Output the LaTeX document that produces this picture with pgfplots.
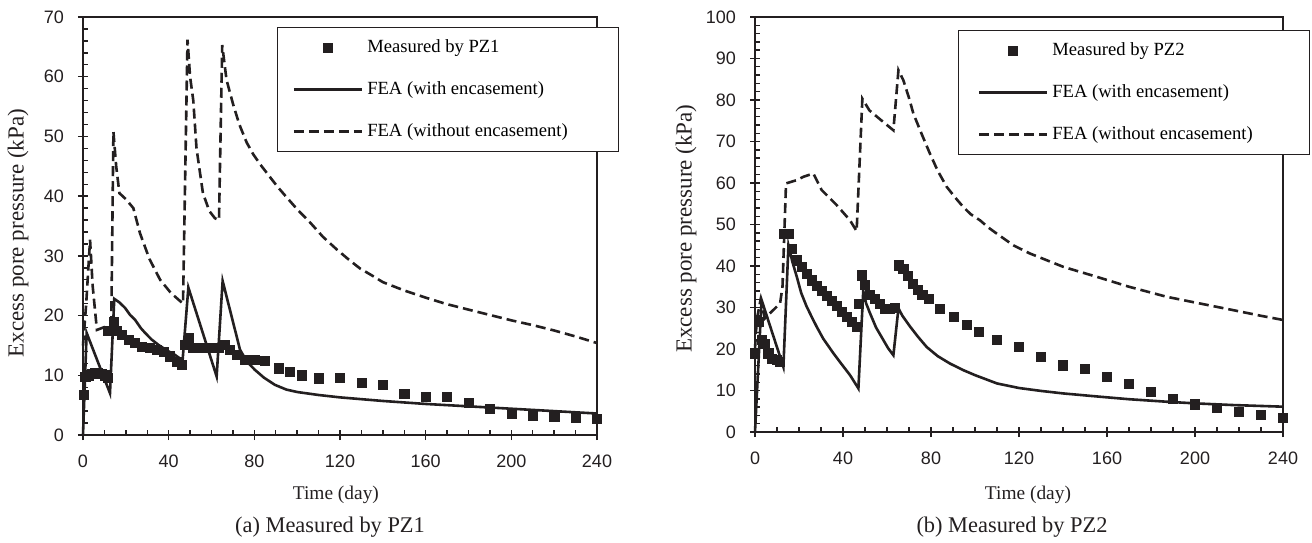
\documentclass[border=0pt]{standalone}
\usepackage{fontspec}
\setmainfont{Liberation Serif}
\setsansfont{Liberation Sans}
\usepackage{pgfplots}
\pgfplotsset{compat=1.18}
\definecolor{ink}{RGB}{35,31,32}

\pgfplotsset{
  pzstyle/.style={
    scale only axis,
    clip=false,
    xmin=0, xmax=240,
    xtick={0,40,...,240},
    minor x tick num=3,
    minor y tick num=4,
    tick pos=left,
    tick align=inside,
    major tick length=5pt,
    minor tick length=2.5pt,
    every major x tick/.append style={yshift=-2.5pt},
    every major y tick/.append style={xshift=-2.5pt},
    tick style={ink, line width=0.7pt},
    axis line style={ink, line width=0.9pt},
    ticklabel style={font=\sffamily\fontsize{9}{10}\selectfont, text=ink},
    /pgf/number format/assume math mode=true,
    xticklabel style={yshift=-6.5pt},
    yticklabel style={xshift=-6pt},
    label style={font=\fontsize{9.7}{11}\selectfont, text=ink},
    xlabel={Time (day)},
    ylabel={Excess pore pressure (kPa)},
    ylabel style={font=\fontsize{11.5}{12}\selectfont, anchor=center},
    xlabel style={anchor=center},
    legend cell align=left,
    legend style={draw=ink, line width=0.7pt, font=\fontsize{9.3}{11}\selectfont,
      inner ysep=4pt, row sep=9pt, anchor=north west},
    legend image code/.code={\draw[mark repeat=2,mark phase=2,##1] plot coordinates {(0pt,0pt) (17pt,0pt) (34pt,0pt)};},
  },
  meas/.style={only marks, mark=square*, mark size=2.3pt, ink, mark options={fill=ink, draw=ink, line width=0.2pt, solid}},
  fea/.style={ink, line width=1.3pt, no marks},
  feadash/.style={ink, line width=1.3pt, no marks, dash pattern=on 5pt off 2.5pt},
}

\begin{document}
\begin{tikzpicture}[x=0.5pt,y=0.5pt]
\path[use as bounding box] (0,0) rectangle (1312,542);

% (a) PZ1
\begin{axis}[pzstyle,
  at={(41.5pt,53.5pt)}, anchor=south west,
  width=257pt, height=209pt,
  ymin=0, ymax=70, ytick={0,10,...,70},
  ylabel style={at={(axis description cs:-0.1265,0.483)}},
  xlabel style={at={(axis description cs:0.492,-0.1435)}},
  legend style={at={(axis description cs:0.3774,0.976)}, inner xsep=7.5pt},
]
\addplot[meas] coordinates {
(0.2,6.7) (1,9.8) (2.5,10) (4,10.2) (5.5,10.4) (7,10.4) (8.5,10.2) (10,10) (11.5,9.6)
(11.8,17.4) (14.2,19) (15.8,17.4) (18,16.8) (21.2,16) (24.3,15.4) (27.4,14.8) (31.3,14.6)
(34.5,14.3) (37.5,14) (40.6,13.2) (43.7,12.3) (46,11.8) (47.6,15.1) (49.2,16.2) (51.5,14.6)
(54.6,14.6) (57.7,14.6) (60.5,14.6) (63.2,14.6) (66.3,15.1) (68.6,14.3) (71.8,13.4) (75.6,12.6)
(80.3,12.6) (85,12.4) (91.2,11.2) (96.6,10.6) (102,10) (110,9.5) (120,9.6) (130,8.7) (140,8.4)
(150,6.9) (160,6.4) (170,6.4) (180,5.4) (190,4.4) (200,3.6) (210,3.2) (220,3.1) (230,2.9) (240,2.7)
};
\addlegendentry{\makebox[116pt][l]{Measured by PZ1}}
\addplot[fea] coordinates {
(0,0) (1.7,17.1) (12.6,7) (14.6,22.8) (17,22.2) (19.6,21.3) (22,20.1) (24.3,19.3) (27,17.9)
(29,17.1) (32,16) (35.2,15.1) (39,14.2) (43,13.4) (46.5,12.5) (49.2,24.7) (62.4,9.8)
(65.2,25.8) (73.3,14.3) (76.5,12.3) (80.3,10.9) (84.5,9.6) (89.6,8.4) (95,7.6) (100,7.2)
(110,6.7) (120,6.3) (140,5.7) (160,5.2) (180,4.8) (200,4.4) (220,4.0) (240,3.6)
};
\addlegendentry{FEA (with encasement)}
\addplot[feadash] coordinates {
(0,15) (1.5,22) (3.3,32.7) (4.5,25) (6.5,17.6) (13.2,18.5) (14.2,50.8) (15.5,45) (17,40.5)
(20,39.5) (23.5,38) (26.6,33.8) (31,29.5) (36,26) (41,23.8) (46.7,22) (48.8,66.2) (50,60)
(51.5,56) (53,48) (56,40.5) (59,37.5) (61.6,36.3) (63.5,36) (65,65.3) (67,59.5) (70,55.5)
(73,52) (76.4,49) (79.5,47) (83,45.2) (87.3,43.2) (91,41.5) (95.1,39.8) (100,37.8) (106,35.6)
(112,33.2) (118.4,31.1) (124,29.4) (129.3,27.9) (135,26.7) (140,25.6) (150,24.2) (160,23)
(170,21.9) (180,21) (190,20.1) (200,19.2) (210,18.4) (220,17.5) (230,16.5) (240,15.4)
};
\addlegendentry{FEA (without encasement)}
\end{axis}

% (b) PZ2
\begin{axis}[pzstyle,
  at={(377.5pt,55pt)}, anchor=south west,
  width=264pt, height=207.5pt,
  ymin=0, ymax=100, ytick={0,10,...,100},
  ylabel style={at={(axis description cs:-0.1307,0.49)}},
  xlabel style={at={(axis description cs:0.517,-0.152)}},
  legend style={at={(axis description cs:0.3845,0.9687)}, inner xsep=9.5pt},
]
\addplot[meas] coordinates {
(0,19) (1.5,26.6) (3,22.2) (4.5,21.3) (6,19) (7.6,17.7) (9.8,17.4) (11.4,17)
(12.9,47.8) (15.2,47.8) (16.7,44.2) (19,41.4) (21.2,39.8) (23.5,38.2) (25.8,36.6) (28,35.3)
(30.3,34.1) (32.6,32.9) (34.8,31.7) (37.1,30.5) (39.4,29) (41.7,27.8) (43.9,26.6) (46.2,25.4)
(47,31) (48.5,37.8) (50,35.4) (52.3,33) (54.5,32.2) (56.8,31) (59.1,29.8) (61.4,29.8) (63.4,30)
(65.2,40.2) (67.4,39.4) (69.5,37.6) (71.5,35.8) (73.8,34.2) (76,33) (78.8,32.1) (84.1,29.8)
(90.2,27.8) (96.2,25.8) (101.5,24.2) (109.8,22.2) (120,20.5) (130,18.1) (140,16.1) (150,15.3)
(160,13.3) (170,11.7) (180,9.7) (190,8.1) (200,6.7) (210,5.9) (220,4.9) (230,4.1) (240,3.5)
};
\addlegendentry{\makebox[117pt][l]{Measured by PZ2}}
\addplot[fea] coordinates {
(0,0) (3,31.8) (12.9,15.7) (15.2,45) (17,41) (19,37.4) (21,33.5) (23.5,30.2) (26,27.5)
(28,25.4) (31,22.5) (35.6,19) (39,16.6) (43.2,13.7) (47,10.5) (49.2,34) (50.5,31) (52.3,28.6)
(55,25.2) (58.3,22.2) (60.5,20.2) (62.9,18.5) (65.2,29.8) (67,28) (70.5,25.4) (74,23)
(78,20.5) (83,18.3) (88.6,16.5) (94.7,14.9) (100,13.7) (110,11.7) (120,10.6) (130,9.9)
(140,9.3) (156.8,8.5) (170,7.9) (187,7.3) (200,6.9) (217,6.5) (240,6.1)
};
\addlegendentry{FEA (with encasement)}
\addplot[feadash] coordinates {
(0,20) (0.8,27) (2.5,31.8) (4.5,27.4) (11.4,31) (12.5,35) (14.1,59.9) (19,60.7) (22,61.5)
(26.5,62.3) (30.3,58.3) (37.1,54.7) (43.2,51) (46.2,48.4) (48.8,80.3) (52,77.5) (58.3,74.7)
(62.9,72.7) (65.2,87.2) (67.4,84.8) (70,80.5) (72,76.7) (76,71.5) (79.5,67.1) (83,63)
(87.1,59.1) (91,56.5) (94.7,54.2) (98,52.5) (102.3,51) (106,49.3) (109.9,47.8) (117.4,45)
(125,43) (132.6,41.4) (140.1,39.8) (147.7,38.6) (155.3,37.4) (170,35) (187,32.6) (200,31.2)
(217,29.4) (230,28) (240,27)
};
\addlegendentry{FEA (without encasement)}
\end{axis}

\node[font=\fontsize{11.2}{13}\selectfont, text=ink] at (330,15) {(a) Measured by PZ1};
\node[font=\fontsize{11.2}{13}\selectfont, text=ink] at (1012,15) {(b) Measured by PZ2};
\end{tikzpicture}
\end{document}
